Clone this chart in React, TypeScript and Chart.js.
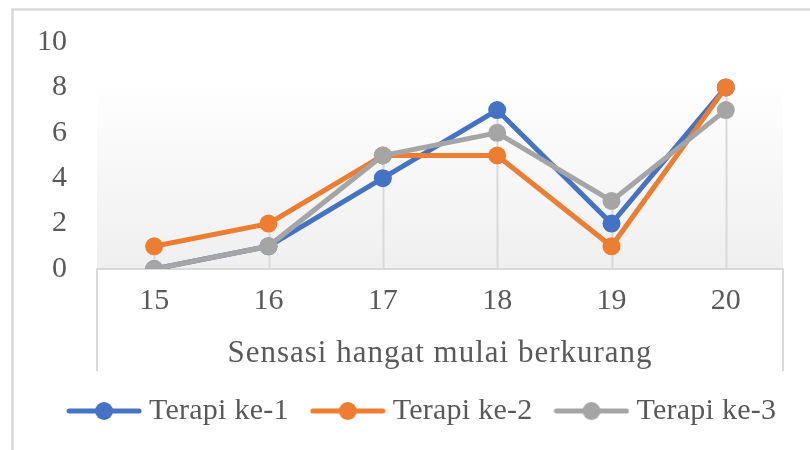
import { useEffect, useRef } from 'react';
import { Chart, registerables } from 'chart.js';

Chart.register(...registerables);

const categories = ['15', '16', '17', '18', '19', '20'];
const terapi1 = [0, 1, 4, 7, 2, 8];
const terapi2 = [1, 2, 5, 5, 1, 8];
const terapi3 = [0, 1, 5, 6, 3, 7];
const seriesLabels = ['Terapi ke-1', 'Terapi ke-2', 'Terapi ke-3'];
const seriesColors = ['#4472C4', '#ED7D31', '#A5A5A5'];
const yMin = 0;
const yMax = 10;
const yStep = 2;
const xTitle = 'Sensasi hangat mulai berkurang';

const FONT = '"Liberation Serif", "Times New Roman", serif';
const TEXT = '#595959';
const LINE_GRAY = '#D9D9D9';

function makeLegendIcon(color: string) {
  const c = document.createElement('canvas');
  c.width = 76;
  c.height = 22;
  const g = c.getContext('2d')!;
  g.strokeStyle = color;
  g.lineWidth = 5;
  g.lineCap = 'round';
  g.beginPath();
  g.moveTo(3, 11);
  g.lineTo(73, 11);
  g.stroke();
  g.fillStyle = color;
  g.beginPath();
  g.arc(38, 11, 9, 0, Math.PI * 2);
  g.fill();
  return c;
}

function withSpacing(obj: any, method: string, spacing: string) {
  const flag = '__ls_' + method;
  if (!obj || obj[flag]) return;
  const orig = obj[method].bind(obj);
  obj[method] = (...args: any[]) => {
    const c = obj.ctx;
    c.save();
    try {
      (c as any).letterSpacing = spacing;
    } catch (e) {
      /* ignore */
    }
    const r = orig(...args);
    c.restore();
    return r;
  };
  obj[flag] = true;
}

const decorPlugin = {
  id: 'decor',
  beforeDraw(chart: any) {
    withSpacing(chart.scales.x, 'drawTitle', '1px');
    withSpacing(chart.legend, 'draw', '0.25px');
    const { ctx, chartArea } = chart;
    const { left, right, top, bottom } = chartArea;
    ctx.save();
    // outer chart border (cropped)
    ctx.strokeStyle = LINE_GRAY;
    ctx.lineWidth = 2.5;
    ctx.strokeRect(12.5, 9.5, 2000, 2000);
    // plot area gradient
    const grad = ctx.createLinearGradient(0, top, 0, bottom);
    grad.addColorStop(0, '#FFFFFF');
    grad.addColorStop(0.15, '#FFFFFF');
    grad.addColorStop(1, '#EFEFEF');
    ctx.fillStyle = grad;
    ctx.fillRect(left, top, right - left, bottom - top);
    // category axis box
    ctx.strokeStyle = LINE_GRAY;
    ctx.lineWidth = 2;
    ctx.beginPath();
    ctx.moveTo(left, bottom + 102);
    ctx.lineTo(left, bottom);
    ctx.lineTo(right, bottom);
    ctx.lineTo(right, bottom + 102);
    ctx.stroke();
    ctx.restore();
  },
  beforeDatasetsDraw(chart: any) {
    const { ctx, chartArea } = chart;
    const xs = chart.scales.x;
    const ys = chart.scales.y;
    ctx.save();
    ctx.strokeStyle = LINE_GRAY;
    ctx.lineWidth = 2;
    categories.forEach((_, i) => {
      const vals = chart.data.datasets.map((d: any) => d.data[i] as number);
      const maxV = Math.max(...vals);
      const x = Math.round(xs.getPixelForValue(i)) + 0.5;
      ctx.beginPath();
      ctx.moveTo(x, ys.getPixelForValue(maxV));
      ctx.lineTo(x, chartArea.bottom);
      ctx.stroke();
    });
    ctx.restore();
  },
};

export default function App() {
  const ref = useRef<HTMLCanvasElement | null>(null);

  useEffect(() => {
    if (!ref.current) return;
    const icons = seriesColors.map((c) => makeLegendIcon(c));
    const seriesData = [terapi1, terapi2, terapi3];
    const chart = new Chart(ref.current, {
      type: 'line',
      data: {
        labels: categories,
        datasets: seriesData.map((d, i) => ({
          label: seriesLabels[i],
          data: d,
          borderColor: seriesColors[i],
          backgroundColor: seriesColors[i],
          pointBackgroundColor: seriesColors[i],
          pointBorderColor: seriesColors[i],
          borderWidth: 5,
          pointRadius: 9,
          pointBorderWidth: 0,
          tension: 0,
          fill: false,
          order: 3 - i,
        })),
      },
      options: {
        responsive: false,
        animation: false,
        devicePixelRatio: 1,
        layout: { padding: { top: 42, bottom: 14, left: 0, right: 0 } },
        plugins: {
          tooltip: { enabled: false },
          legend: {
            position: 'bottom',
            align: 'center',
            labels: {
              usePointStyle: true,
              pointStyleWidth: 60,
              padding: 29,
              color: TEXT,
              font: { family: FONT, size: 30 },
              generateLabels: () =>
                seriesLabels.map((t, i) => ({
                  text: t,
                  pointStyle: icons[i] as any,
                  fillStyle: seriesColors[i],
                  strokeStyle: seriesColors[i],
                  fontColor: TEXT,
                  lineWidth: 0,
                  hidden: false,
                  datasetIndex: i,
                })),
            },
          },
        },
        scales: {
          x: {
            type: 'category',
            offset: true,
            grid: { display: false, drawTicks: false },
            border: { display: false },
            ticks: { color: TEXT, font: { family: FONT, size: 30 }, padding: 14, maxRotation: 0 },
            title: {
              display: true,
              text: xTitle,
              color: TEXT,
              font: { family: FONT, size: 31, lineHeight: 1 },
              padding: { top: 0, bottom: -2 },
            },
            afterFit: (s: any) => {
              s.height = 98;
            },
          },
          y: {
            type: 'linear',
            position: 'left',
            min: yMin,
            max: yMax,
            grid: { display: false, drawTicks: false },
            border: { display: false },
            ticks: { stepSize: yStep, color: TEXT, font: { family: FONT, size: 30 }, padding: 30 },
            afterFit: (s: any) => {
              s.width = 97;
              s.paddingTop = 0;
              s.paddingBottom = 0;
            },
          },
          yR: {
            type: 'linear',
            position: 'right',
            display: true,
            grid: { display: false, drawTicks: false },
            border: { display: false },
            ticks: { display: false },
            afterFit: (s: any) => {
              s.width = 59;
              s.paddingTop = 0;
              s.paddingBottom = 0;
            },
          },
        },
      },
      plugins: [decorPlugin],
    });
    return () => chart.destroy();
  }, []);

  return (
    <div style={{ position: 'absolute', left: 0, top: 0, width: 810, height: 450, overflow: 'hidden', background: '#FFFFFF' }}>
      <canvas ref={ref} width={842} height={450} style={{ width: 842, height: 450, display: 'block' }} />
    </div>
  );
}
